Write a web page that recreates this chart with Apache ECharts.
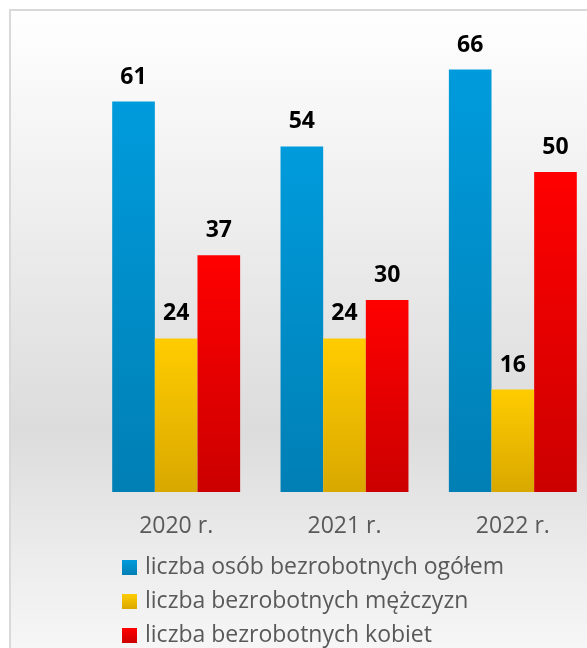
<!DOCTYPE html>
<html>
<head>
<meta charset="utf-8">
<script src="https://cdn.jsdelivr.net/npm/echarts@6/dist/echarts.min.js"></script>
<style>
    html, body {margin:0; padding:0; background:#fff; overflow:hidden;}
    #ChartMain {width:587px; height:648px;}
</style>
</head>
<body>
<div id="ChartMain"></div>
<script type="text/javascript">
    var years = ['2020 r.', '2021 r.', '2022 r.'];
    var seriesNames = ['liczba osób bezrobotnych ogółem', 'liczba bezrobotnych mężczyzn', 'liczba bezrobotnych kobiet'];
    var totalAll = [61, 54, 66];
    var totalMen = [24, 24, 16];
    var totalWomen = [37, 30, 50];

    function grad(top, bottom) {
        return new echarts.graphic.LinearGradient(0, 0, 0, 1, [
            {offset: 0, color: top},
            {offset: 1, color: bottom}
        ]);
    }

    var labelStyle = {
        show: true,
        position: 'top',
        distance: 13,
        fontSize: 23,
        fontWeight: 'bold',
        color: '#000',
        fontFamily: 'Open Sans'
    };

    var myChart = echarts.init(document.getElementById('ChartMain'));
    var option = {
        animation: false,
        graphic: [{
            type: 'rect',
            z: -10,
            silent: true,
            shape: {x: 10, y: 10, width: 620, height: 700},
            style: {
                fill: new echarts.graphic.LinearGradient(0, 0, 0, 1, [
                    {offset: 0, color: '#ffffff'},
                    {offset: 0.6, color: '#dcdcdc'},
                    {offset: 0.78, color: '#ececec'},
                    {offset: 1, color: '#fdfdfd'}
                ]),
                stroke: '#d9d9d9',
                lineWidth: 2
            }
        }],
        legend: {
            orient: 'vertical',
            left: 122,
            top: 556,
            height: 200,
            padding: 0,
            itemWidth: 15,
            itemHeight: 15,
            itemGap: 11,
            icon: 'rect',
            textStyle: {
                fontSize: 23,
                color: '#595959',
                fontFamily: 'Open Sans',
                padding: [0, 0, 0, 3]
            },
            data: seriesNames
        },
        grid: {
            left: 92,
            top: 44,
            width: 505,
            bottom: 156,
            outerBoundsMode: 'none'
        },
        xAxis: {
            type: 'category',
            data: years,
            axisLine: {show: false},
            axisTick: {show: false},
            axisLabel: {
                fontSize: 23,
                color: '#595959',
                fontFamily: 'Open Sans',
                margin: 23
            }
        },
        yAxis: {
            type: 'value',
            min: 0,
            max: 70,
            show: false,
            splitLine: {show: false}
        },
        series: [
            {
                name: seriesNames[0],
                type: 'bar',
                data: totalAll,
                barGap: '0%',
                barCategoryGap: '24%',
                itemStyle: {color: grad('#009bdc', '#007fb4')},
                label: labelStyle
            },
            {
                name: seriesNames[1],
                type: 'bar',
                data: totalMen,
                itemStyle: {color: grad('#ffcc00', '#d9a800')},
                label: labelStyle
            },
            {
                name: seriesNames[2],
                type: 'bar',
                data: totalWomen,
                itemStyle: {color: grad('#ff0000', '#cc0000')},
                label: labelStyle
            }
        ]
    };
    myChart.setOption(option);
</script>
</body>
</html>
